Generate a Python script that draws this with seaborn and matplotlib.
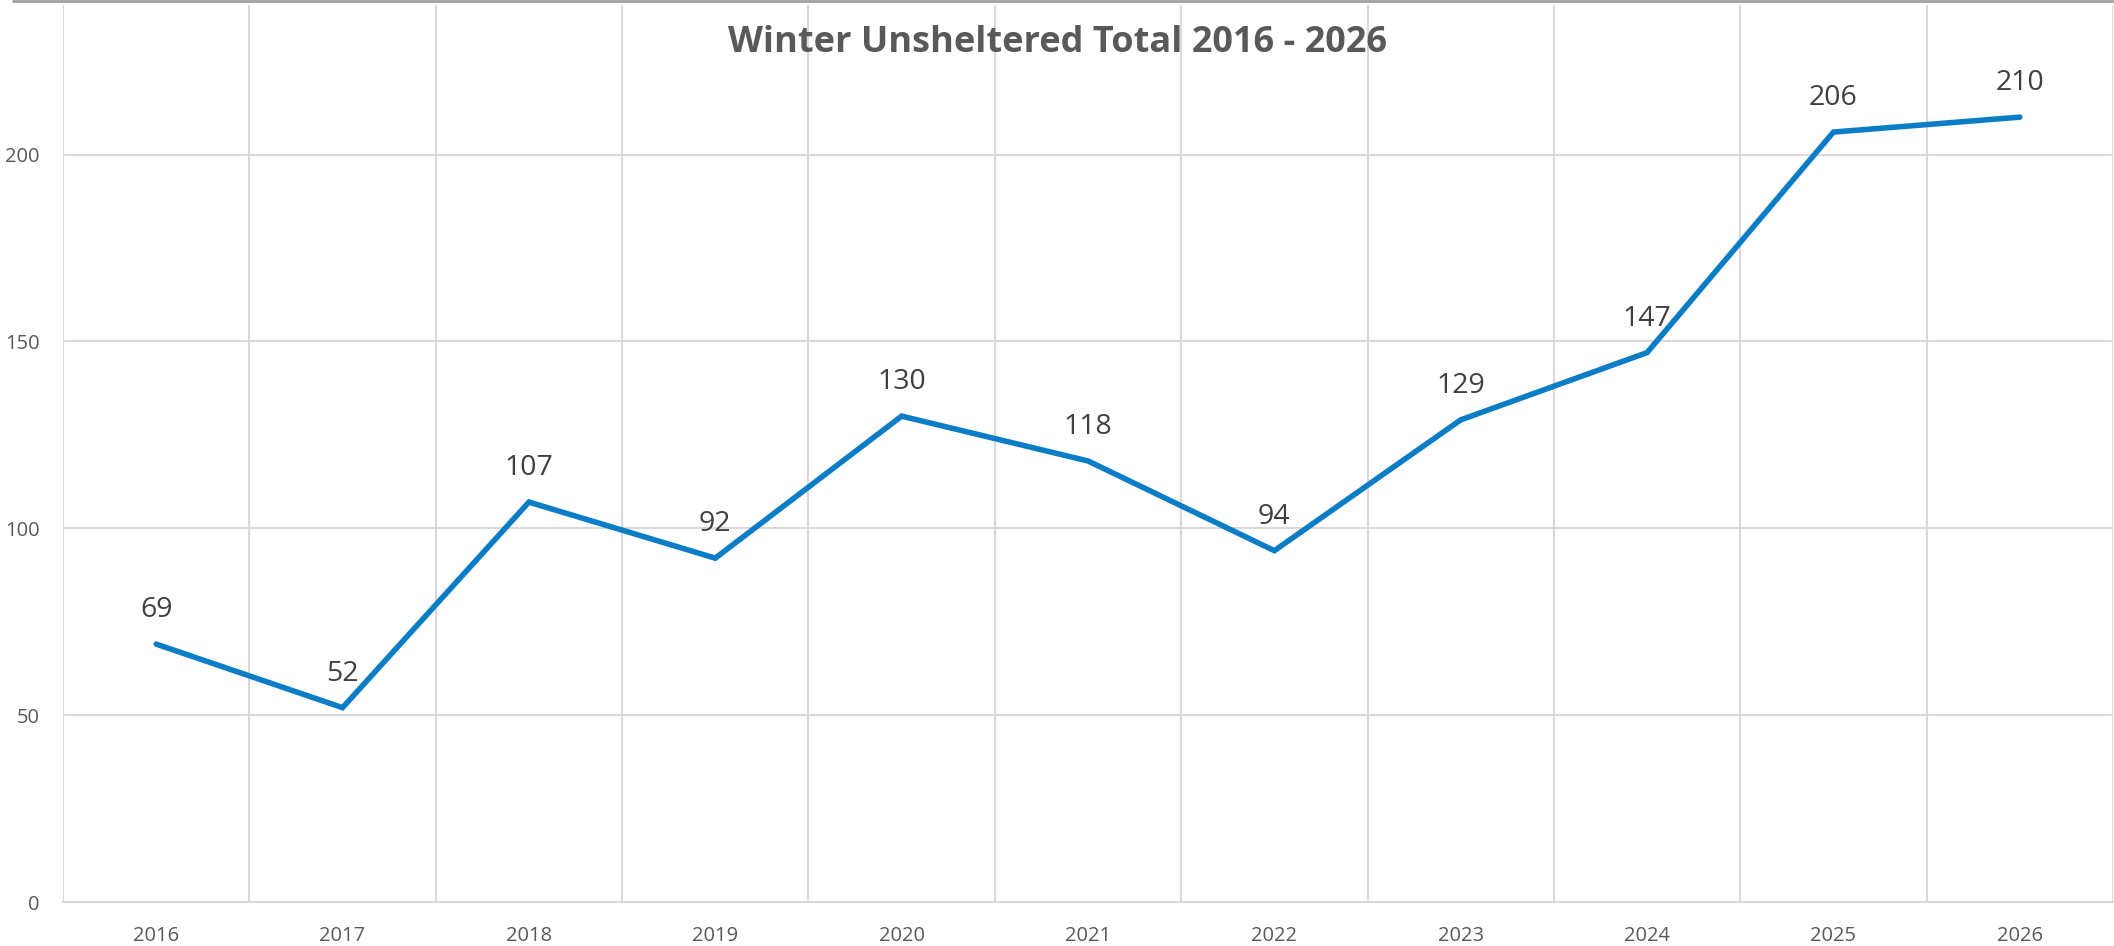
import numpy as np
import matplotlib
matplotlib.use("Agg")
import matplotlib.pyplot as plt
from matplotlib.lines import Line2D
import pandas as pd
import seaborn as sns

# data
years = ['2016', '2017', '2018', '2019', '2020', '2021', '2022', '2023', '2024', '2025', '2026']
totals = [69, 52, 107, 92, 130, 118, 94, 129, 147, 206, 210]
yticks = [0, 50, 100, 150, 200]

df = pd.DataFrame({'pos': np.arange(len(years)), 'total': totals})

sns.set_theme(style='white')
plt.rcParams['font.family'] = ['Open Sans', 'DejaVu Sans']

W, H, DPI = 2114, 946, 100
fig = plt.figure(figsize=(W / DPI, H / DPI), dpi=DPI)
ax = fig.add_axes([63 / W, 44 / H, 2050 / W, 897 / H])

sns.lineplot(data=df, x='pos', y='total', ax=ax, color='#0A7DC6', linewidth=4,
             solid_joinstyle='miter', solid_capstyle='round')

# value labels above each point
for x, v in zip(df['pos'], df['total']):
    ax.annotate(str(v), (x, v), xytext=(0, 19.5), textcoords='offset points',
                ha='center', va='baseline', fontsize=20.5, color='#404040')

ax.set_xlim(-0.5, len(years) - 0.5)
ax.set_ylim(0, 240)
ax.set_xticks(df['pos'])
ax.set_xticklabels(years)
ax.set_yticks(yticks)
ax.set_xticks(np.arange(-0.5, len(years), 1), minor=True)
ax.grid(False)
ax.grid(True, which='minor', axis='x', color='#D9D9D9', linewidth=1.5)
ax.grid(True, which='major', axis='y', color='#D9D9D9', linewidth=1.5)
ax.tick_params(axis='x', which='both', length=0, pad=17, labelsize=14.5, labelcolor='#595959')
ax.tick_params(axis='y', which='both', length=0, pad=17, labelsize=14.5, labelcolor='#595959')
ax.set_xlabel('')
ax.set_ylabel('')
for side in ['top', 'right', 'left']:
    ax.spines[side].set_visible(False)
ax.spines['bottom'].set_color('#D9D9D9')
ax.spines['bottom'].set_linewidth(1.5)
ax.set_axisbelow(True)

fig.text(0.5, 1 - 43 / H, 'Winter Unsheltered Total 2016 - 2026', ha='center', va='center',
         fontsize=26, fontweight='bold', color='#595959')

# chart border remnant along the top edge
fig.add_artist(Line2D([13 / W, 1], [1 - 1 / H, 1 - 1 / H], transform=fig.transFigure,
                      color='#A0A0A0', linewidth=2))

fig.savefig('out.png', dpi=DPI)
